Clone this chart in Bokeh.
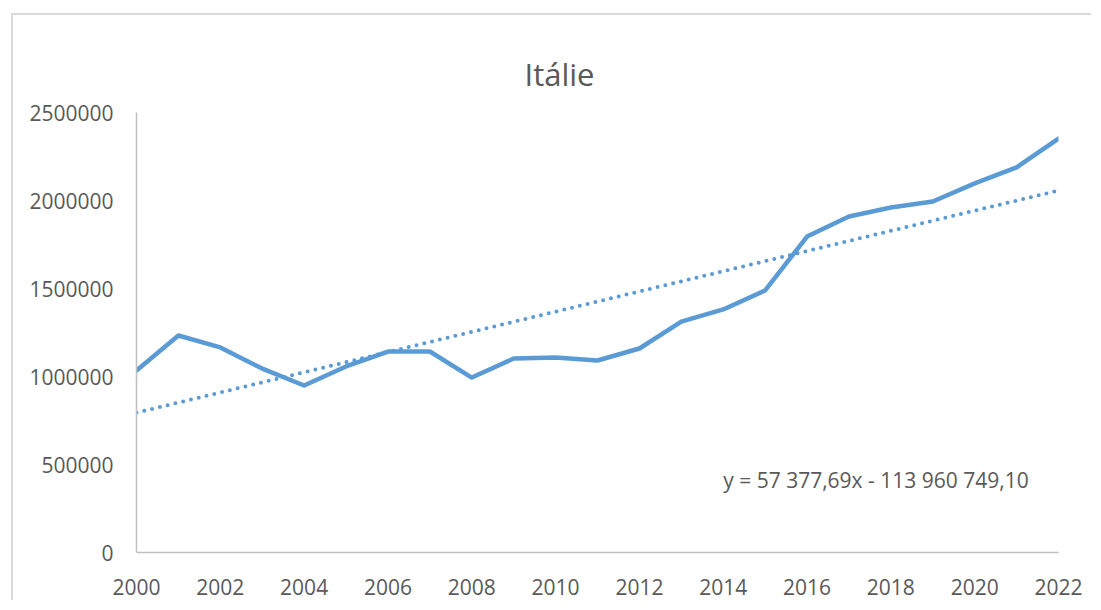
from bokeh.plotting import figure
from bokeh.models import Range1d, FixedTicker, NumeralTickFormatter, Label, ColumnDataSource
from bokeh.embed import file_html
from bokeh.resources import INLINE

years = list(range(2000, 2023))
values = [1034000, 1233000, 1165000, 1045000, 949000, 1057000, 1142000, 1142000,
          994000, 1102000, 1108000, 1091000, 1159000, 1312000, 1381000, 1489000,
          1795000, 1909000, 1960000, 1994000, 2097000, 2188000, 2352000]
slope = 57377.69
intercept = -113960749.10
trend = [slope * y + intercept for y in years]
title_text = "Itálie"
equation_text = "y = 57 377,69x - 113 960 749,10"
x_ticks = list(range(2000, 2023, 2))
y_ticks = [0, 500000, 1000000, 1500000, 2000000, 2500000]

FONT = "Open Sans"
GRAY = "#595959"
BLUE = "#5B9BD5"

p = figure(width=1080, height=587, output_backend="svg", toolbar_location=None,
           x_range=Range1d(2000, 2022), y_range=Range1d(0, 2500000),
           min_border_left=123, min_border_right=35, min_border_top=97, min_border_bottom=50)
p.margin = (13, 0, 0, 11)
p.styles = {"border-left": "2px solid #d9d9d9", "border-top": "2px solid #d9d9d9"}
p.outline_line_color = None
p.xgrid.visible = False
p.ygrid.visible = False

p.title.text = title_text
p.title.text_font = FONT
p.title.text_font_size = "31px"
p.title.text_font_style = "normal"
p.title.text_color = GRAY
p.title.align = "left"
p.title.offset = 388
p.title.vertical_align = "top"
p.title.standoff = 32

src = ColumnDataSource(dict(x=years, y=values, t=trend))
p.line("x", "t", source=src, line_color=BLUE, line_width=4, line_dash="0 8", line_cap="round")
p.line("x", "y", source=src, line_color=BLUE, line_width=4.5, line_join="round", line_cap="round")

for ax in (p.xaxis[0], p.yaxis[0]):
    ax.axis_line_color = "#c0c0c0"
    ax.axis_line_width = 1.5
    ax.major_tick_line_color = None
    ax.minor_tick_line_color = None
    ax.major_label_text_font = FONT
    ax.major_label_text_font_size = "21px"
    ax.major_label_text_color = GRAY

p.xaxis.ticker = FixedTicker(ticks=x_ticks)
p.yaxis.ticker = FixedTicker(ticks=y_ticks)
p.yaxis.formatter = NumeralTickFormatter(format="0")
p.xaxis.major_label_standoff = 20
p.yaxis.major_label_standoff = 17

p.add_layout(Label(x=2014.0, y=410000, text=equation_text, text_font=FONT,
                   text_font_size="21px", text_color=GRAY, text_align="left",
                   text_baseline="middle"))

open("out.html", "w").write(file_html(p, INLINE))
